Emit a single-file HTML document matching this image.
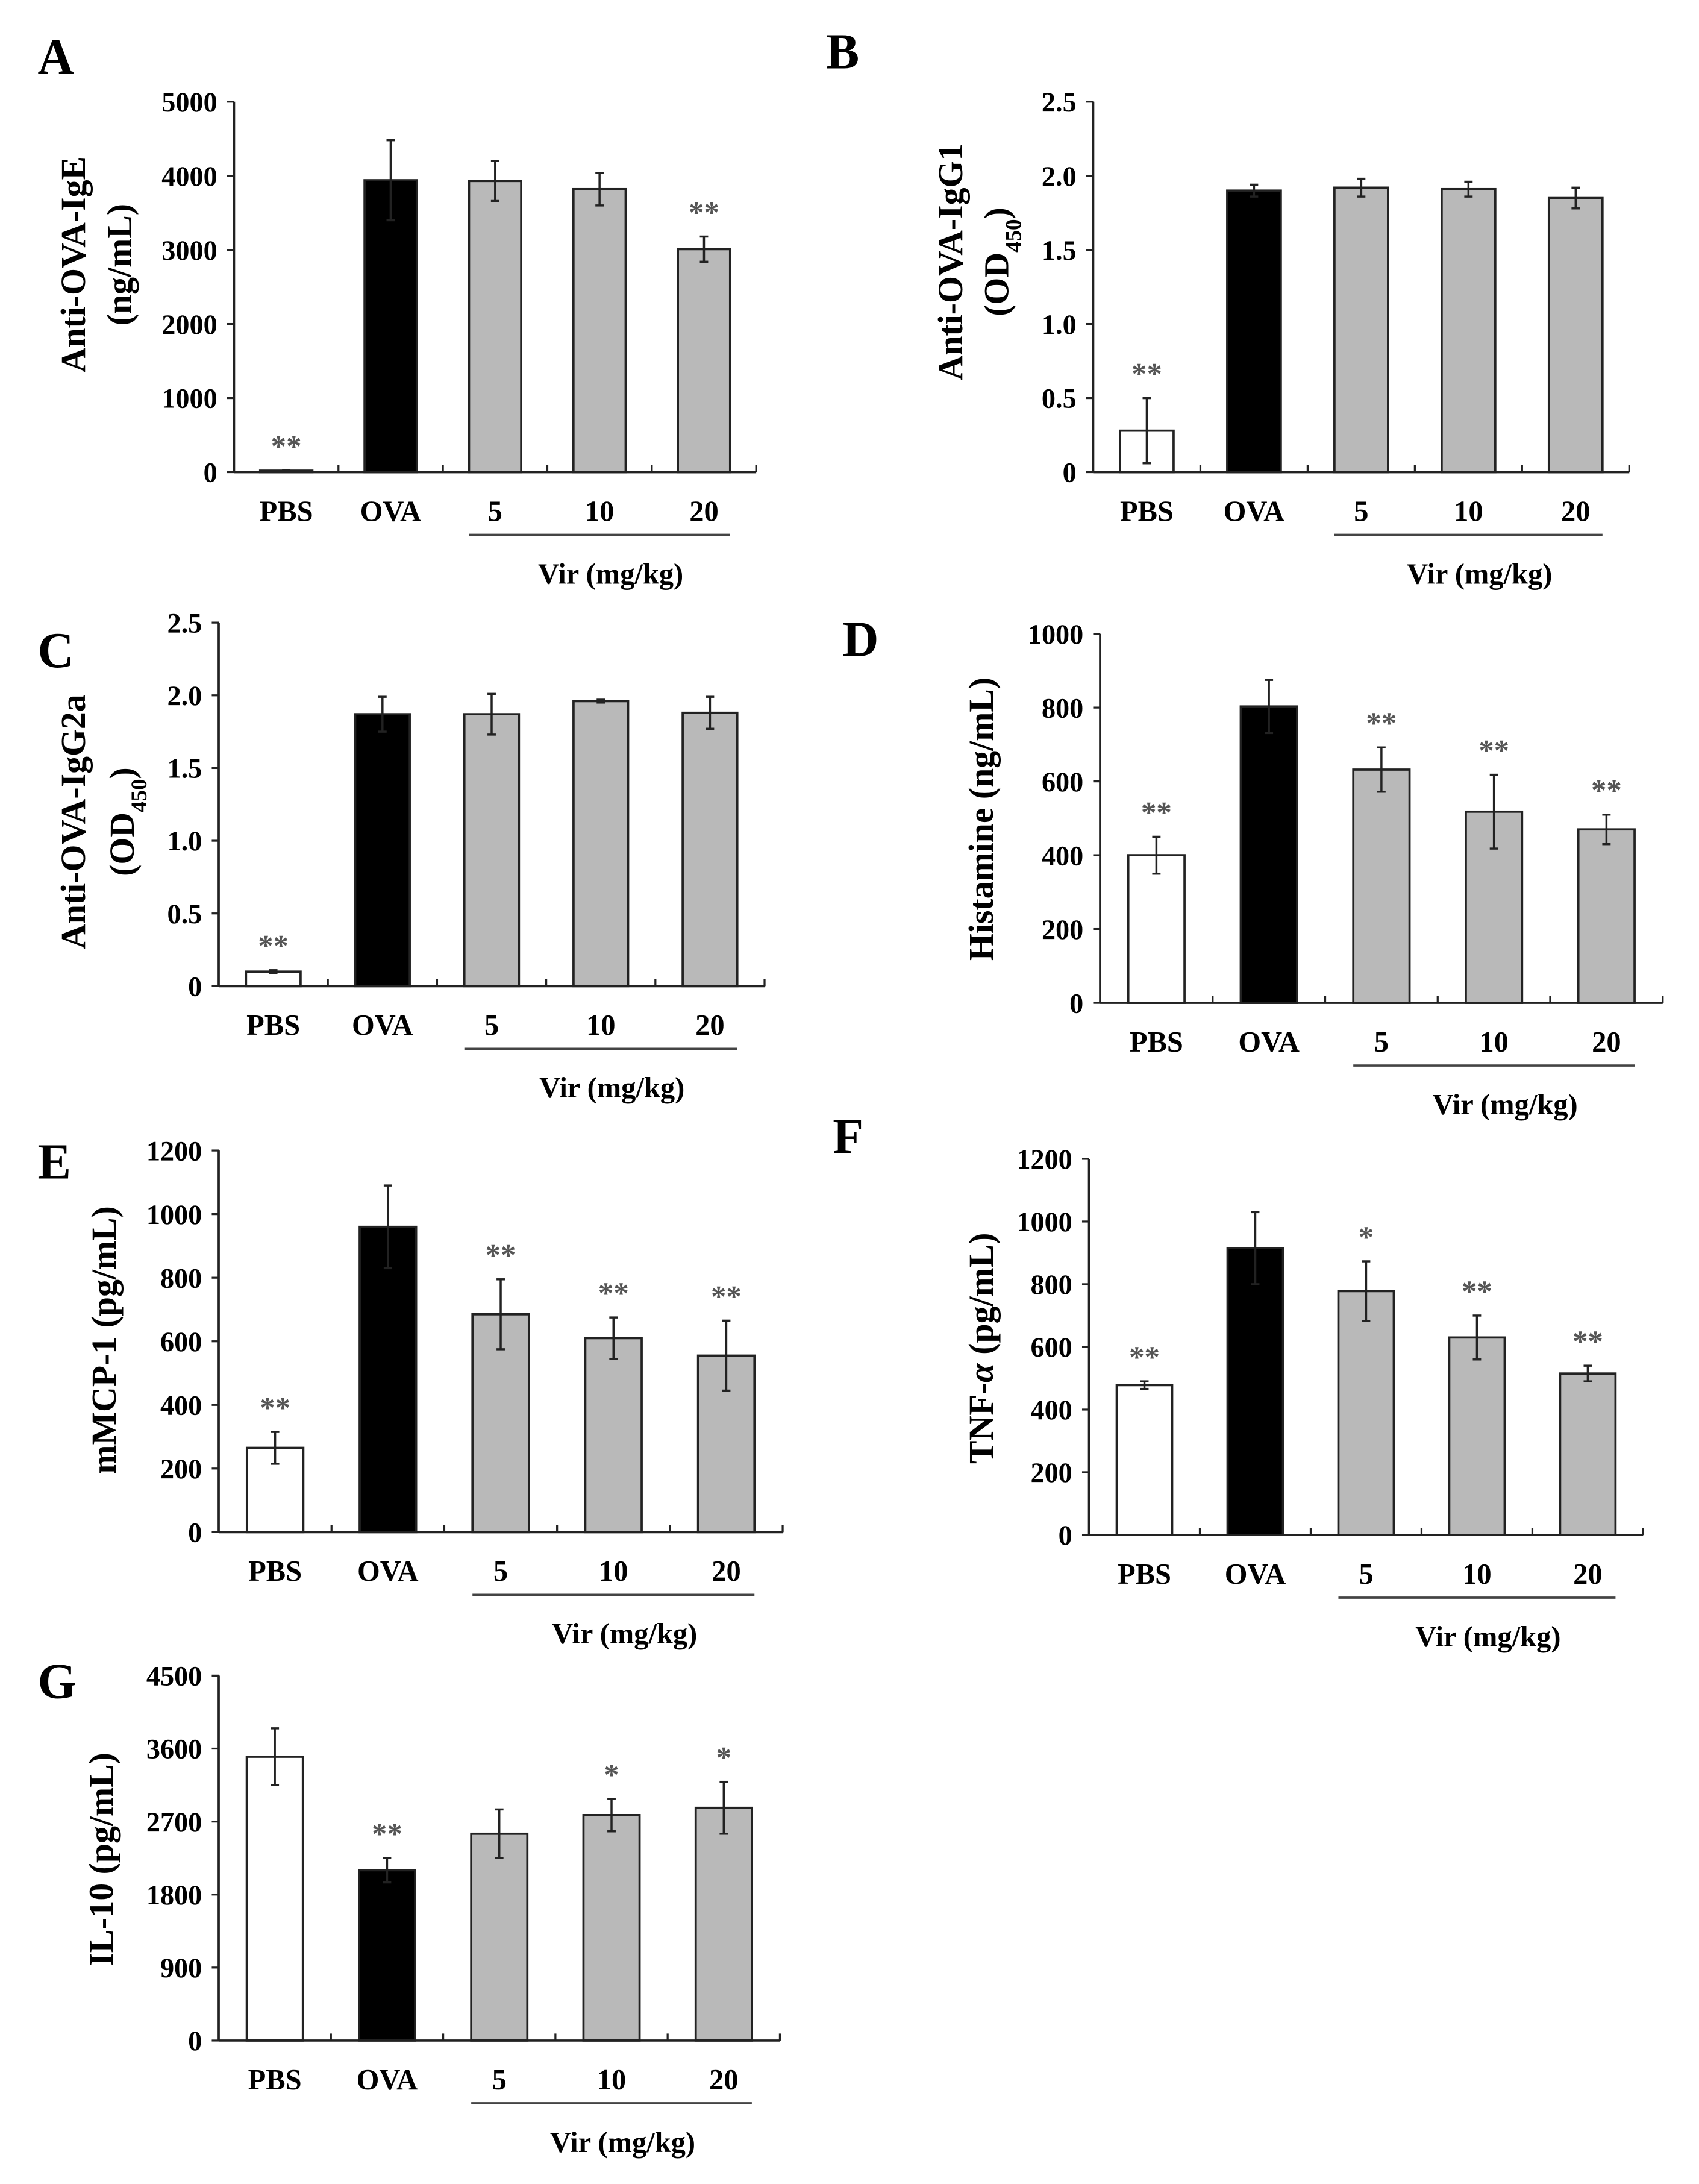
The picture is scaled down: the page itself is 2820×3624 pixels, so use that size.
<!DOCTYPE html>
<html>
<head>
<meta charset="utf-8">
<style>
  html, body { margin: 0; padding: 0; background: #fff; }
  svg { display: block; }
  text { font-family: "Liberation Serif", "DejaVu Serif", serif; font-weight: bold; }
</style>
</head>
<body>
<svg id="fig" width="2820" height="3624" viewBox="0 0 1220 1568" xmlns="http://www.w3.org/2000/svg">
  <rect x="0" y="0" width="1220" height="1568" fill="#ffffff"/>
</svg>
<script>
const categories = ["PBS", "OVA", "5", "10", "20"];

const aValues = [20, 3940, 3930, 3820, 3010];
const aErrors = [5, 540, 270, 220, 170];
const aStars = ["**", "", "", "", "**"];
const aTicks = [0, 1000, 2000, 3000, 4000, 5000];
const aTickLabels = ["0", "1000", "2000", "3000", "4000", "5000"];

const bValues = [0.28, 1.90, 1.92, 1.91, 1.85];
const bErrors = [0.22, 0.04, 0.06, 0.05, 0.07];
const bStars = ["**", "", "", "", ""];
const bTicks = [0, 0.5, 1.0, 1.5, 2.0, 2.5];
const bTickLabels = ["0", "0.5", "1.0", "1.5", "2.0", "2.5"];

const cValues = [0.10, 1.87, 1.87, 1.96, 1.88];
const cErrors = [0.01, 0.12, 0.14, 0.01, 0.11];
const cStars = ["**", "", "", "", ""];
const cTicks = [0, 0.5, 1.0, 1.5, 2.0, 2.5];
const cTickLabels = ["0", "0.5", "1.0", "1.5", "2.0", "2.5"];

const dValues = [400, 803, 632, 518, 470];
const dErrors = [50, 72, 60, 100, 40];
const dStars = ["**", "", "**", "**", "**"];
const dTicks = [0, 200, 400, 600, 800, 1000];
const dTickLabels = ["0", "200", "400", "600", "800", "1000"];

const eValues = [265, 960, 685, 610, 555];
const eErrors = [50, 130, 110, 65, 110];
const eStars = ["**", "", "**", "**", "**"];
const eTicks = [0, 200, 400, 600, 800, 1000, 1200];
const eTickLabels = ["0", "200", "400", "600", "800", "1000", "1200"];

const fValues = [478, 915, 778, 630, 515];
const fErrors = [12, 115, 95, 70, 25];
const fStars = ["**", "", "*", "**", "**"];
const fTicks = [0, 200, 400, 600, 800, 1000, 1200];
const fTickLabels = ["0", "200", "400", "600", "800", "1000", "1200"];

const gValues = [3500, 2100, 2550, 2780, 2870];
const gErrors = [350, 150, 300, 200, 320];
const gStars = ["", "**", "", "*", "*"];
const gTicks = [0, 900, 1800, 2700, 3600, 4500];
const gTickLabels = ["0", "900", "1800", "2700", "3600", "4500"];

const fills = ["#ffffff", "#000000", "#b9b9b9", "#b9b9b9", "#b9b9b9"];
const NS = "http://www.w3.org/2000/svg";
const svg = document.getElementById("fig");

function mk(tag, attrs, parent) {
  const el = document.createElementNS(NS, tag);
  for (const k in attrs) el.setAttribute(k, attrs[k]);
  (parent || svg).appendChild(el);
  return el;
}

function panel(cfg, values, errors, stars, ticks, tickLabels) {
  const g = mk("g", {});
  
  
  const max = ticks[ticks.length - 1];
  const yScale = v => cfg.y0 - (v / max) * (cfg.y0 - cfg.yTop);
  const step = (cfg.x1 - cfg.x0) / categories.length;
  const xScale = i => cfg.x0 + step * (i + 0.5);
  const bw = step * 0.5;

  const letter = mk("text", { x: cfg.lx, y: cfg.ly, "font-size": 36 }, g);
  letter.textContent = cfg.id.toUpperCase();
  
  

  values.forEach((v, i) => {
    const cx = xScale(i);
    const yt = yScale(v);
    const bar = mk("rect", { x: cx - bw / 2, y: yt, width: bw, height: cfg.y0 - yt, fill: fills[i], stroke: "#222", "stroke-width": 1.6 }, g);
    
    
    const e = errors[i];
    const eb = mk("g", { stroke: "#222", "stroke-width": 1.5 }, g);
    
    
    mk("line", { x1: cx, x2: cx, y1: yScale(v + e), y2: yScale(v - e) }, eb);
    mk("line", { x1: cx - 3, x2: cx + 3, y1: yScale(v + e), y2: yScale(v + e) }, eb);
    mk("line", { x1: cx - 3, x2: cx + 3, y1: yScale(v - e), y2: yScale(v - e) }, eb);
    if (stars[i]) {
      const s = mk("text", { x: cx, y: yScale(v + e) - 10, "font-size": 22, fill: "#555", "text-anchor": "middle", "font-weight": "normal" }, g);
      s.textContent = stars[i];
      
      
    }
    const lab = mk("text", { x: cx, y: cfg.y0 + 35, "font-size": 21, "text-anchor": "middle" }, g);
    lab.textContent = categories[i];
    
    
  });

  const yAxis = mk("line", { x1: cfg.x0, x2: cfg.x0, y1: cfg.yTop, y2: cfg.y0, stroke: "#222", "stroke-width": 1.6 }, g);
  
  
  const xAxis = mk("line", { x1: cfg.x0, x2: cfg.x1, y1: cfg.y0, y2: cfg.y0, stroke: "#222", "stroke-width": 1.6 }, g);
  
  
  for (let i = 1; i <= categories.length; i++) {
    const tx = cfg.x0 + step * i;
    mk("line", { x1: tx, x2: tx, y1: cfg.y0, y2: cfg.y0 - 5, stroke: "#222", "stroke-width": 1.4 }, g);
  }
  ticks.forEach((t, i) => {
    const ty = yScale(t);
    mk("line", { x1: cfg.x0 - 5, x2: cfg.x0, y1: ty, y2: ty, stroke: "#222", "stroke-width": 1.4 }, g);
    const tl = mk("text", { x: cfg.x0 - 12, y: ty + 7, "font-size": 20, "text-anchor": "end" }, g);
    tl.textContent = tickLabels[i];
    
    
  });

  const vl = mk("line", { x1: xScale(2) - bw / 2, x2: xScale(4) + bw / 2, y1: cfg.y0 + 45, y2: cfg.y0 + 45, stroke: "#444", "stroke-width": 1.6 }, g);
  
  
  const vt = mk("text", { x: xScale(3) + 8, y: cfg.y0 + 80, "font-size": 21, "text-anchor": "middle" }, g);
  vt.textContent = "Vir (mg/kg)";
  
  

  const yc = cfg.titleY;
  const t1 = mk("text", { x: 0, y: 0, "font-size": 25, "text-anchor": "middle", transform: "translate(" + cfg.tx1 + "," + yc + ") rotate(-90)" }, g);
  t1.innerHTML = cfg.title1;
  
  
  if (cfg.title2) {
    const t2 = mk("text", { x: 0, y: 0, "font-size": 25, "text-anchor": "middle", transform: "translate(" + cfg.tx2 + "," + yc + ") rotate(-90)" }, g);
    t2.innerHTML = cfg.title2;
    
    
  }
}

panel({ id: "a", lx: 27, ly: 53, x0: 168, x1: 543, yTop: 73, y0: 339, titleY: 190, tx1: 61, tx2: 94, title1: "Anti-OVA-IgE", title2: "(ng/mL)" }, aValues, aErrors, aStars, aTicks, aTickLabels);
panel({ id: "b", lx: 593, ly: 49, x0: 785, x1: 1170, yTop: 73, y0: 339, titleY: 188, tx1: 691, tx2: 724, title1: "Anti-OVA-IgG1", title2: "(OD<tspan baseline-shift='sub' font-size='16'>450</tspan>)" }, bValues, bErrors, bStars, bTicks, bTickLabels);
panel({ id: "c", lx: 27, ly: 479, x0: 157, x1: 549, yTop: 447, y0: 708, titleY: 590, tx1: 61, tx2: 96, title1: "Anti-OVA-IgG2a", title2: "(OD<tspan baseline-shift='sub' font-size='16'>450</tspan>)" }, cValues, cErrors, cStars, cTicks, cTickLabels);
panel({ id: "d", lx: 605, ly: 471, x0: 790, x1: 1194, yTop: 455, y0: 720, titleY: 588, tx1: 713, title1: "Histamine (ng/mL)" }, dValues, dErrors, dStars, dTicks, dTickLabels);
panel({ id: "e", lx: 27, ly: 846, x0: 157, x1: 562, yTop: 826, y0: 1100, titleY: 962, tx1: 83, title1: "mMCP-1 (pg/mL)" }, eValues, eErrors, eStars, eTicks, eTickLabels);
panel({ id: "f", lx: 598, ly: 828, x0: 782, x1: 1180, yTop: 832, y0: 1102, titleY: 968, tx1: 713, title1: "TNF-<tspan font-style='italic'>α</tspan> (pg/mL)" }, fValues, fErrors, fStars, fTicks, fTickLabels);
panel({ id: "g", lx: 27, ly: 1219, x0: 157, x1: 560, yTop: 1203, y0: 1465, titleY: 1335, tx1: 81, title1: "IL-10 (pg/mL)" }, gValues, gErrors, gStars, gTicks, gTickLabels);
</script>
</body>
</html>
